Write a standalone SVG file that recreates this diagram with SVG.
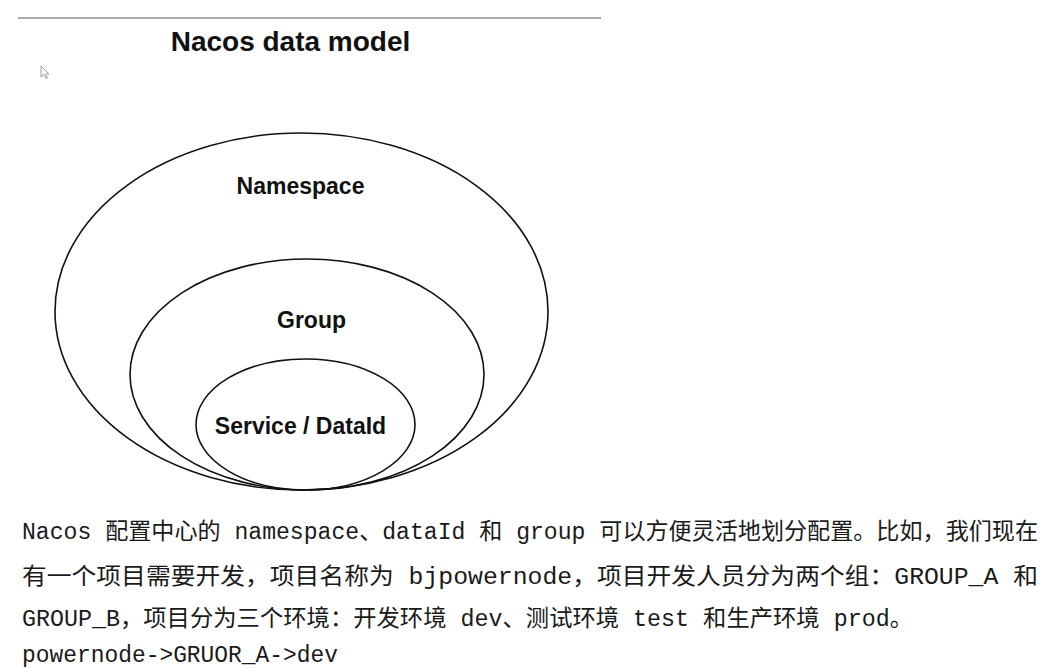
<svg xmlns="http://www.w3.org/2000/svg" width="1058" height="668" viewBox="0 0 1058 668">
<style>
.lbl{font-family:"Liberation Sans",Arial,sans-serif;font-weight:bold;fill:#111;text-anchor:middle}
.ell{fill:none;stroke:#111;stroke-width:1.6}
.body{font-family:"Liberation Mono","Noto Sans CJK SC",monospace;font-size:23px;fill:#1a1a1a}
</style>
<rect width="1058" height="668" fill="#fff"/>
<line x1="18" y1="18" x2="601" y2="18" stroke="#555" stroke-width="1.2"/>
<text class="lbl" x="290.5" y="51" font-size="28">Nacos data model</text>
<path d="M41 66 L41 77 L44 74.5 L46 78.5 L47.5 78 L45.5 74 L49 74 Z" fill="#fff" stroke="#888" stroke-width="0.8"/>
<g id="namespace">
<ellipse class="ell" cx="301.5" cy="311.5" rx="246.5" ry="178.5"/>
<text class="lbl" x="300.5" y="194" font-size="23">Namespace</text>
</g>
<g id="group">
<ellipse class="ell" cx="307" cy="374.5" rx="177" ry="115.5"/>
<text class="lbl" x="311.5" y="328" font-size="23">Group</text>
</g>
<g id="service">
<ellipse class="ell" cx="305.5" cy="424.5" rx="109.5" ry="65.5"/>
<text class="lbl" x="300.5" y="434" font-size="23">Service / DataId</text>
</g>
<g id="connectors"></g>
<text class="body" x="22" y="539" textLength="1016" lengthAdjust="spacingAndGlyphs">Nacos 配置中心的 namespace、dataId 和 group 可以方便灵活地划分配置。比如，我们现在</text>
<text class="body" x="22" y="584" textLength="1016" lengthAdjust="spacingAndGlyphs">有一个项目需要开发，项目名称为 bjpowernode，项目开发人员分为两个组：GROUP_A 和</text>
<text class="body" x="22" y="626" textLength="891" lengthAdjust="spacingAndGlyphs">GROUP_B，项目分为三个环境：开发环境 dev、测试环境 test 和生产环境 prod。</text>
<text class="body" x="22" y="662" textLength="316" lengthAdjust="spacingAndGlyphs">powernode-&gt;GRUOR_A-&gt;dev</text>
</svg>
